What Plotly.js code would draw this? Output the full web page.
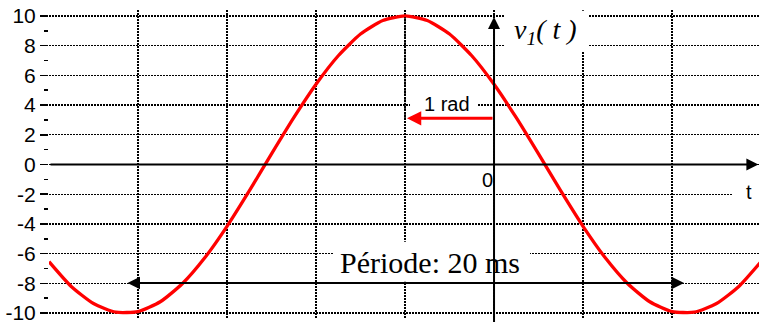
<!DOCTYPE html>
<html>
<head>
<meta charset="utf-8">
<script src="https://cdn.plot.ly/plotly-3.0.1.min.js"></script>
<style>
  body { margin: 0; background: #fff; }
  #chart { width: 759px; height: 322px; }
</style>
</head>
<body>
<div id="chart"></div>
<script>
// phase axis in rad (1 grid step = 1 rad), period 2*pi rad = 20 ms
var theta = [-5, -4.75, -4.5, -4.25, -4, -3.75, -3.5, -3.25, -3, -2.75, -2.5, -2.25, -2, -1.75, -1.5, -1.25,
             -1, -0.75, -0.5, -0.25, 0, 0.25, 0.5, 0.75, 1, 1.25, 1.5, 1.75, 2, 2.25, 2.5, 2.75, 3];
var v1 = [-6.54, -8.21, -9.36, -9.94, -9.90, -9.24, -8.01, -6.28, -4.16, -1.78, 0.71, 3.15, 5.40, 7.32, 8.78, 9.69,
          10.00, 9.69, 8.78, 7.32, 5.40, 3.15, 0.71, -1.78, -4.16, -6.28, -8.01, -9.24, -9.90, -9.94, -9.36, -8.21, -6.54];

var yTicks = [-10, -8, -6, -4, -2, 0, 2, 4, 6, 8, 10];
var yTickText = ["-10", "-8", "-6", "-4", "-2", "0", "2", "4", "6", "8", "10"];
var yMinor = [-9, -7, -5, -3, -1, 1, 3, 5, 7, 9];
var xGrid = [-5, -4, -3, -2, -1, 0, 1, 2, 3];

var peakPhase = -1;      // 1 rad before t = 0
var radArrowY = 3.11;
var periodStart = -4.135, periodEnd = 2.135, periodY = -7.98;

var sans = 'Arial, "Liberation Sans", sans-serif';
var serif = '"Times New Roman", "Liberation Serif", serif';

var trace = {
    x: theta,
    y: v1,
    type: "scatter",
    mode: "lines",
    line: {color: "#ff0000", width: 3.3, shape: "spline", smoothing: 0.6},
    hoverinfo: "skip"
};

function whiteBox(x0, x1, y0, y1) {
    return {type: "rect", xref: "x", yref: "y", x0: x0, x1: x1, y0: y0, y1: y1,
            fillcolor: "#ffffff", line: {width: 0}, layer: "between"};
}

function arrow(x, y, ax, ay, color, width, size, both) {
    var a = {x: x, y: y, ax: ax, ay: ay, xref: "x", yref: "y", axref: "x", ayref: "y",
             text: "", showarrow: true, arrowhead: 2, arrowsize: size, arrowwidth: width,
             arrowcolor: color, standoff: 0};
    if (both) {
        a.arrowside = "end+start";
        a.startarrowhead = 2;
        a.startarrowsize = size;
        a.startstandoff = 0;
    }
    return a;
}

function label(x, y, text, family, size) {
    return {x: x, y: y, xref: "x", yref: "y", text: text, showarrow: false,
            font: {family: family, size: size, color: "#000"}};
}

var layout = {
    width: 759,
    height: 322,
    margin: {l: 49, r: 0, t: 10, b: 3},
    paper_bgcolor: "#fff",
    plot_bgcolor: "#fff",
    showlegend: false,
    xaxis: {
        range: [-5, 2.977],
        tickvals: xGrid,
        showticklabels: false,
        ticks: "",
        showgrid: true,
        gridcolor: "#000",
        gridwidth: 1.3,
        griddash: "1.5px,1.5px",
        zeroline: false,
        showline: false,
        fixedrange: true
    },
    yaxis: {
        range: [-10.4, 10.4],
        tickvals: yTicks,
        ticktext: yTickText,
        ticks: "outside",
        ticklen: 8,
        tickwidth: 1.5,
        tickcolor: "#000",
        ticklabeloverflow: "allow",
        tickfont: {family: sans, size: 21, color: "#000"},
        minor: {tickvals: yMinor, ticks: "outside", ticklen: 4,
                tickwidth: 1.5, tickcolor: "#000", showgrid: false},
        showgrid: true,
        gridcolor: "#000",
        gridwidth: 1.3,
        griddash: "1.5px,1.5px",
        zeroline: false,
        showline: false,
        fixedrange: true
    },
    shapes: [
        whiteBox(0.112, 1.056, 7.6, 10.35),
        whiteBox(-0.944, -0.191, 3.47, 4.68),
        whiteBox(-1.809, 0.404, -7.9, -5.2),
        whiteBox(2.685, 2.98, -2.8, -1.25),
        {type: "line", xref: "x", yref: "y", x0: peakPhase, x1: peakPhase, y0: radArrowY, y1: 10,
         line: {color: "#000", width: 1.5, dash: "5px,3px"}, layer: "above"}
    ],
    annotations: [
        arrow(2.97, 0, -5, 0, "#000", 2, 1.2, false),
        arrow(0, 9.93, 0, -10.8, "#000", 2, 1.2, false),
        arrow(peakPhase + 0.022, radArrowY, 0, radArrowY, "#ff0000", 3, 0.95, false),
        arrow(periodEnd, periodY, periodStart, periodY, "#000", 2, 1.25, true),
        label(0.573, 8.92, "<i>v<sub>1</sub>( t )</i>", serif, 28),
        label(-0.53, 4.1, "1 rad", sans, 20),
        label(-0.079, -1.04, "0", sans, 20),
        label(2.865, -1.85, "t", sans, 20),
        label(-0.719, -6.63, "Période: 20 ms", serif, 30)
    ]
};

Plotly.newPlot("chart", [trace], layout, {displayModeBar: false, staticPlot: true});
</script>
</body>
</html>
